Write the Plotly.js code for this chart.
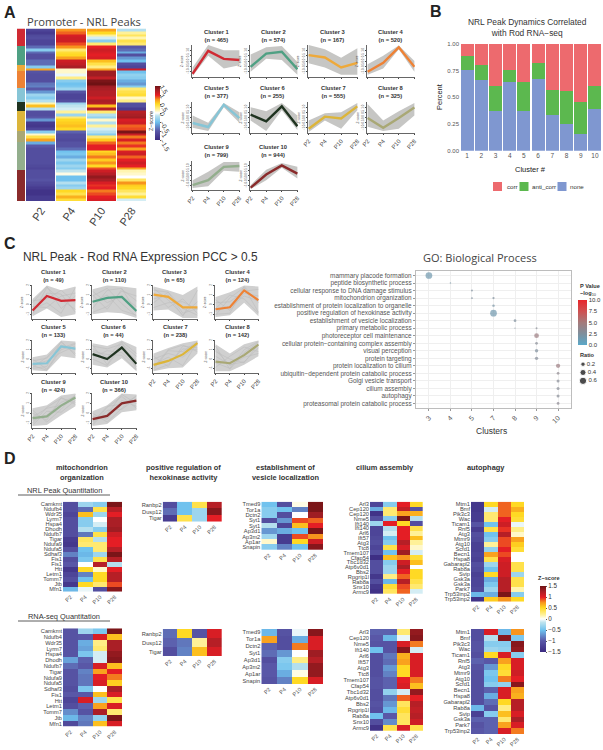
<!DOCTYPE html>
<html><head><meta charset="utf-8">
<script src="https://cdn.plot.ly/plotly-3.0.1.min.js"></script>
<style>html,body{margin:0;padding:0;background:#fff}</style></head>
<body><div id="chart" style="width:603px;height:750px"></div>
<script>
const W=603,H=750;
const stages=['P2','P4','P10','P28'];
const clusterColors=['#d02a33','#4fa083','#eea93a','#ee8235','#87c5d6','#1f3320','#dcb53a','#a9a875','#93ae8d','#8a2b2b'];

// Panel A heatmap
const promoterCluster=[1,1,1,1,1,1,2,2,2,2,2,2,2,3,3,4,4,4,4,4,4,5,5,5,5,5,6,6,6,7,7,7,7,7,7,7,8,8,8,8,9,9,9,9,9,9,9,9,9,9,10,10,10,10,10,10,10,10,10,10,10];
const promoterZ=[
[-1.2,0.75,0.7,-0.2],[-1.3,0.85,0.5,0.2],[-1.15,1.05,0.2,0.35],[-1.1,1.1,-0.1,0.15],[-1.2,1.1,-0.4,0.4],[-1.2,0.9,0.3,0.3],
[-0.9,0.75,1.0,-1.0],[-0.4,0.3,1.1,-0.9],[-0.9,0.45,1.05,-0.6],[-1.1,0.5,1.0,-1.1],[-1.1,0.7,1.05,-0.7],[-0.9,1.1,0.6,-0.5],[-0.9,1.15,0.4,-1.1],
[-0.4,1.25,0.25,-1.2],[0.7,0.1,0.7,1.1],
[-1.05,0.1,1.3,-0.5],[-1.1,-0.05,1.3,-0.35],[-1.1,0.25,1.15,-0.4],[-1.1,-0.4,1.45,-0.6],[-0.85,-0.5,1.5,-0.7],[-0.8,-0.45,1.3,-0.4],
[-1.0,-0.3,1.25,0.3],[-0.7,-1.05,1.2,0.4],[-0.3,-1.2,1.2,0.45],[-0.4,-1.2,1.1,0.1],[-0.2,-1.1,1.25,0.25],
[0.15,-0.3,1.2,-1.1],[0.6,-0.15,0.6,-1.1],[-0.2,-0.1,1.2,-1.3],
[-1.1,0.2,0.3,1.2],[-1.1,-0.3,-0.2,1.25],[-1.0,0.3,-0.35,1.3],[-0.7,0.5,0.1,1.05],[-1.3,0.55,-0.2,1.1],[-1.35,0.6,0.2,0.85],[-1.2,0.5,-0.1,0.9],
[-0.4,-0.95,-0.2,1.45],[0.1,-1.1,-0.4,1.1],[0.4,-1.1,0.3,0.8],[0.7,-1.15,0.55,1.05],
[-0.6,-1.05,0.85,0.8],[-1.0,-1.05,1.0,0.95],[-1.1,-0.9,1.0,0.7],[-1.1,-0.5,0.5,1.05],[-1.1,-0.45,0.6,1.1],[-1.1,-0.6,0.8,0.85],[-1.1,-0.3,0.55,1.0],[-1.1,-0.45,0.75,1.1],[-1.15,-0.3,0.5,1.0],[-1.2,-0.4,0.9,0.7],
[-1.1,-0.15,1.1,0.15],[-1.1,0.05,1.2,0.1],[-1.1,-0.5,1.35,0.0],[-1.05,-0.5,1.25,0.35],[-1.15,-0.2,1.05,0.75],[-1.2,-0.4,0.95,0.55],[-1.3,-0.3,1.0,0.5],[-1.4,0.5,0.8,0.35],[-1.4,0.4,0.9,0.2],[-1.3,0.65,1.0,0.45],[-1.3,0.45,1.05,-0.1]];

// Panel A cluster profiles
const aN=[465,574,167,520,377,255,555,325,799,944];
const aMean=[[-1.2,0.95,0.2,0.1],[-0.55,0.7,0.87,-0.77],[0.55,0.33,-0.6,-0.17],[-1,-0.17,1.28,-0.55],[-0.53,-0.92,1.24,-0.05],[0.27,-0.37,1.08,-0.85],[-1.08,0.08,-0.1,1.08],[-0.05,-1.0,-0.05,0.98],[-0.99,-0.48,0.89,0.99],[-1.26,0.1,1.05,0.2]];
const aUpper=[[-0.6,1.5,1.0,1.0],[0.6,1.3,1.4,-0.1],[1.5,1.1,0.3,1.2],[-0.3,0.5,1.45,0],[0.2,-0.5,1.4,0.5],[1.0,0.6,1.4,0.2],[-0.3,0.4,0.5,1.4],[1.3,-0.3,0.6,1.4],[-0.5,0.4,1.4,1.4],[-1.0,0.6,1.3,0.9]];
const aLower=[[-1.4,0.5,-0.7,-0.4],[-1,0.2,0.1,-1.3],[-0.2,-0.6,-1.3,-1.3],[-1.3,-0.7,1.1,-1.0],[-1,-1.3,1.0,-0.5],[-0.3,-1.3,0.7,-1.2],[-1.4,-0.3,-1.1,0.7],[-0.9,-1.3,-1.1,0.2],[-1.3,-1.1,0.5,0.4],[-1.4,-0.5,0.8,-0.3]];

// Panel B
const bClusters=['1','2','3','4','5','6','7','8','9','10'];
const bNone=[0.76,0.66,0.37,0.645,0.375,0.675,0.33,0.25,0.16,0.39];
const bAnti=[0.13,0.145,0.235,0.11,0.265,0.145,0.24,0.305,0.30,0.215];
const bCorr=[0.11,0.195,0.395,0.245,0.36,0.18,0.43,0.445,0.54,0.395];

// Panel C cluster profiles
const cN=[49,110,65,124,133,44,238,142,424,366];
const cMean=[[-0.62,0.91,0.4,0.47],[0.3,0.71,0.81,-0.65],[1.05,0.81,-0.28,-0.28],[-0.48,-0.28,1.49,0.47],[-0.52,-0.45,1.37,1.13],[0.53,0,1.23,-0.52],[-0.63,-0.2,0.5,1.72],[-0.27,-0.45,0.42,1.55],[-0.5,-0.33,0.77,1.6],[-0.6,-0.27,1,1.27]];
const cUpper=[[0.6,2,1.5,1.9],[1.6,2,1.9,1.7],[1.9,1.5,1,1.9],[0.8,1.3,2,1.9],[0.2,0.5,2,1.9],[1.7,1.4,2,1.3],[0.6,1.2,1.7,2],[1.6,0.6,1.6,2],[0.5,0.8,1.8,2],[0.2,0.8,2,1.9]];
const cLower=[[-1.2,-0.4,-1.3,-1.0],[-1,-0.8,-0.9,-1.4],[-0.6,-0.5,-1.4,-1.4],[-1.3,-1.1,0.2,-1.2],[-1.2,-1.3,0.3,0.1],[-0.6,-0.9,0.1,-1.3],[-1.3,-1,-0.9,0.6],[-1.3,-1.3,-0.6,0.3],[-1.3,-1.2,-0.2,0.7],[-1.3,-1.1,0.1,0.3]];
const cGray=[
[[-1,1.8,0.5,-0.5],[0.4,0.6,1.5,0.2],[-0.5,0.2,-0.9,1.8],[-0.9,1.2,1.1,-0.8],[0.2,1.9,-0.4,0.9],[-0.2,-0.3,0.9,1.2]],
[[0.9,1.7,0.1,-1.2],[-0.4,1.5,1.7,-0.8],[1.4,0.2,0.9,-0.2],[-0.8,-0.2,1.4,0.9],[0.3,1,-0.6,-1.1],[1,-0.5,1.6,0.4]],
[[1.7,0.5,-1.1,0.3],[0.2,1.3,-0.4,-1.1],[1.2,-0.3,0.6,-0.9],[0.6,1,-1.2,1.5],[-0.3,0.2,0.3,-0.5],[1.5,1.3,-0.9,-0.4]],
[[-1.1,0.7,1.8,-0.8],[0.5,-0.6,1.2,0.9],[-0.4,1,0.6,-0.9],[-1,-0.9,1.9,0.2],[0.2,0.3,1.4,1.6],[-0.7,-0.2,0.9,0.4]],
[[-0.9,0.2,1.8,0.6],[0,-1.1,1.2,1.7],[-0.6,-0.2,0.7,1.4],[-1,-0.8,1.9,0.4],[-0.2,0.1,1.5,1],[-0.7,-1.2,1.0,1.6]],
[[1.5,-0.6,1.8,-1.1],[0.2,0.9,0.7,-0.8],[1.1,0.2,1.9,0.6],[0,-0.7,1.4,-0.2],[0.8,0.5,0.4,-1.2],[1.4,1.1,1.6,0.3]],
[[-1.1,0.9,0.8,1.9],[0.3,-0.8,1.4,1.2],[-0.6,0.2,-0.7,1.8],[-1.2,-0.6,1.1,1],[0,0.6,0.2,1.5],[-0.9,1,1.5,0.8]],
[[1.4,-1.1,0.7,1.8],[0.3,-0.6,-0.3,1.2],[-0.9,0.3,1.3,0.8],[0.8,0,-0.4,1.6],[-0.4,-1,1,1.9],[1,-0.7,0.2,0.6]],
[[-1,0.6,1.5,1.1],[0.3,-0.9,0.4,1.9],[-0.7,-0.2,1.1,1.7],[-1.2,0.2,0.1,1.3],[0,-0.7,1.6,0.9],[-0.4,0.5,0.8,1.5]],
[[-1.1,0.6,1.7,0.5],[0,-0.9,0.5,1.8],[-0.8,-0.1,1.9,1],[-1.2,0.3,0.4,1.5],[-0.3,-0.6,1.3,0.7],[-0.9,0.7,0.9,1.7]]];

// GO dot plot
const goTerms=['mammary placode formation','peptide biosynthetic process','cellular response to DNA damage stimulus','mitochondrion organization','establishment of protein localization to organelle','positive regulation of hexokinase activity','establishment of vesicle localization','primary metabolic process','photoreceptor cell maintenance','cellular protein\u2212containing complex assembly','visual perception','protein targeting','protein localization to cilium','ubiquitin\u2212dependent protein catabolic process','Golgi vesicle transport','cilium assembly','autophagy','proteasomal protein catabolic process'];
const goClusterOrder=['3','4','5','7','8','9','10'];
const goCluster=['3','4','5','5','7','7','7','8','8','9','9','9','9','9','10','10','10','10','10','10'];
const goRow=[0,1,2,3,3,4,5,6,7,7,8,9,10,11,12,13,14,15,16,17];
const goLogP=[1.5,2,2.5,2.5,2.5,2,1.5,2.5,2.5,3,4.5,3,2.5,2.8,4.5,3.5,3,3,3,3.3];
const goRatio=[0.6,0.03,0.05,0.05,0.07,0.08,0.6,0.1,0.02,0.05,0.3,0.1,0.15,0.15,0.25,0.1,0.12,0.12,0.12,0.1];
const ratioLegend=[0.2,0.4,0.6];

// Panel D heatmaps
const h1Names=['Camkmt','Ndufb4','Wdr35','Lyrm7','Hspa4','Dhodh','Ndufb7','Tigar','Ndufa9','Ndufa5','Sdhaf3','Fis1','Fis1','Htt','Letm1','Tomm7','Jtb','Mfn1'];
const h1Z=[[-1.1,-0.3,-0.4,1.45],[-1.1,-0.9,0.4,1.2],[-1.2,0.6,-0.3,1.0],[-1.1,-0.4,0.0,1.25],[-1.1,-0.4,-0.1,1.25],[-1.1,-0.2,-0.4,1.3],[-1.1,-0.85,0.4,1.1],[-1.3,0.35,-0.2,1.0],[-1.35,0.3,0.3,1.0],[-1.1,-0.5,0.3,1.2],[-0.8,-0.55,-0.3,1.45],[-1.1,-0.45,0.4,1.2],[-1.0,0,1.2,-0.2],[-1.35,0.5,0.1,1.0],[-1.2,-0.8,0.5,1.2],[-1.1,-0.5,0.5,1.2],[-1.35,0.5,0.3,0.9],[-0.55,-0.05,-1.1,1.4]];
const h2Names=['Ranbp2','Dusp12','Tigar'];
const h2Z=[[-1.1,-0.5,0.4,1.2],[-0.9,-0.5,-0.3,1.4],[-1.3,0.4,-0.3,1.0]];
const h3Names=['Tmed9','Tor1a','Dctn2','Syt1','Syt1','Ap3d1','Ap3m2','Ap1ar','Snapin'];
const h3Z=[[-0.5,-1.1,0.05,1.45],[-0.4,-0.5,-0.8,1.45],[-0.4,-1.1,0,1.3],[-1.1,-0.7,0.9,0.85],[-0.2,-1.2,0.6,1.0],[-0.7,-0.6,-0.5,1.45],[-0.3,-1.3,0.9,0.75],[0.1,-1.3,0.5,1.1],[-0.4,-0.8,-0.5,1.4]];
const h4Names=['Arl3','Cep120','Cep120','Nme5','Ift140','Ift140','Arl6','Ift57','Atg3','Ttc8','Tmem107','Cfap54','Tbc1d32','Atp6v0d1','Bbs2','Rpgrip1l','Rab8a','Snx10','Armc9'];
const h4Z=[[-1.2,-0.4,1.0,0.5],[-0.6,0.3,1.15,-1.05],[-1.4,0.3,0.7,0.65],[-1.1,-0.4,1.45,-0.2],[-0.3,1.0,0.5,-1.1],[-1.2,-0.2,1.0,0.4],[-1.2,-0.1,1.0,0.2],[-1.15,-0.5,1.0,0.6],[-1.1,-0.4,1.2,0.2],[-1.2,0.4,1.05,0.1],[-1.1,-0.5,1.3,-0.1],[-1.45,0.6,0.75,0.45],[-1.1,-0.4,1.1,0.6],[-1.1,-0.3,1.25,0],[-1.1,-0.3,1.0,0.5],[-1.35,0.25,0.85,0.5],[-1.1,-0.55,1.2,0.4],[-1.35,0.45,0.9,0.3],[-1.4,0.35,0.85,-0.1]];
const h5Names=['Mtm1','Bmf','Pik3c3','Wac','Ticam1','Rnf5','Atg3','Mtmr9','Atg10','Scfd1','Becn1','Hspa8','Gabarapl2','Rab8a','Svip','Gsk3a','Gsk3a','Park7','Trp53inp2','Trp53inp2'];
const h5Z=[[-1.35,0.5,0.85,0.5],[-1.35,-0.1,0.85,0.65],[-1.3,0.3,0.85,0.5],[-1.3,0.3,1.0,0.45],[-1.05,-0.5,1.1,-0.05],[-1.3,0.4,0.95,0.25],[-1.1,-0.5,1.2,0.1],[-1.15,-0.4,0.9,0.7],[-1.25,0.2,0.9,0.55],[-1.25,-0.35,1.0,0.45],[-1.2,0.7,0.9,0],[-1.25,0.4,1.05,0],[-1.1,-0.3,1.1,0.4],[-1.15,-0.5,1.1,0.4],[-1.25,0.5,1.1,-0.3],[-1.2,-0.6,1.2,0.4],[-1.2,-0.45,1.2,0.4],[-1.15,-0.3,1.2,0.15],[-0.55,-0.6,1.45,-0.4],[-1.4,0.55,0.75,0.5]];
const r1Names=['Camkmt','Ndufb4','Wdr35','Lyrm7','Hspa4','Dhodh','Ndufb7','Tigar','Ndufa9','Ndufa5','Sdhaf3','Fis1','Htt','Letm1','Tomm7','Jtb','Mfn1'];
const r1Z=[[-1.05,-0.3,-0.45,1.45],[-1.05,-1.0,1.05,0.6],[-1.05,-0.6,0.25,1.25],[-1.05,-0.65,0.3,1.25],[-1.05,-0.45,-0.1,1.35],[-0.65,-0.95,-0.1,1.4],[-0.9,-1.0,1.05,0.6],[-1.05,-0.8,0.7,1.0],[-1.05,-0.85,1.0,0.8],[-1.05,-0.85,1.05,0.55],[-1.1,-0.45,0.0,1.25],[-1.0,-1.0,0.6,1.05],[-1.2,1.05,-0.3,0.4],[-1.1,-0.95,0.7,1.05],[-0.75,-1.05,1.25,0.3],[-0.55,-0.8,-0.35,1.45],[-1.15,-0.85,0.6,1.05]];
const r2Names=['Ranbp2','Dusp12','Tigar'];
const r2Z=[[-0.9,0.5,-1.05,1.05],[-0.95,-0.85,0.2,1.2],[-1.1,-0.8,0.6,1.05]];
const r3Names=['Tmed9','Tor1a','Dctn2','Syt1','Ap3d1','Ap3m2','Ap1ar','Snapin'];
const r3Z=[[-0.55,-1.05,-0.05,1.4],[0.7,-1.1,-0.6,1.05],[-0.95,-1.1,0.8,1.05],[-0.9,-0.7,0,1.3],[-1.1,-0.4,0.25,1.2],[-1.0,-0.45,-0.2,1.35],[-1.0,-0.6,0.05,1.35],[-1.05,-0.8,0.5,1.05]];
const r4Names=['Arl3','Cep120','Nme5','Ift140','Arl6','Ift57','Atg3','Ttc8','Tmem107','Cfap54','Tbc1d32','Atp6v0d1','Bbs2','Rpgrip1l','Rab8a','Snx10','Armc9'];
const r4Z=[[-0.95,-0.95,0.3,1.35],[-1.0,-0.55,-0.05,1.4],[-1.05,-1.05,1.05,0.8],[-0.5,-1.05,1.4,-0.1],[-1.1,-0.85,0.65,1.05],[-1.1,-0.9,0.7,1.05],[-1.1,-0.7,0.5,1.05],[-1.1,-0.8,0.5,1.05],[-1.05,-0.95,1.0,0.8],[-1.05,-0.95,1.05,0.6],[-1.1,-0.35,-0.1,1.35],[-1.1,-0.85,0.85,1.0],[-1.05,-0.7,0.35,1.2],[-1.1,-0.55,0.45,1.15],[-0.5,-1.0,0.35,1.2],[-1.1,-0.75,0.35,1.1],[-1.4,0.4,1.05,0.4]];
const r5Names=['Mtm1','Bmf','Pik3c3','Wac','Ticam1','Rnf5','Atg3','Mtmr9','Atg10','Scfd1','Becn1','Hspa8','Gabarapl2','Rab8a','Svip','Gsk3a','Park7','Trp53inp2'];
const r5Z=[[-1.1,1.05,-0.55,0.75],[-1.1,-0.2,1.4,-0.45],[-1.05,-0.4,-0.4,1.4],[-1.05,-0.3,-0.35,1.35],[-1.1,0.5,1.05,-0.4],[-0.95,-1.0,0.7,1.05],[-1.05,-0.7,0.5,1.05],[-1.1,-0.45,0.45,1.1],[-1.1,-0.5,0.8,1.0],[-1.1,-0.4,-0.35,1.4],[-1.1,-0.95,1.05,0.7],[-1.1,-0.6,1.05,0.65],[-1.1,-0.9,0.5,1.2],[-0.55,-1.05,0.25,1.2],[-1.25,-0.4,0.6,1.05],[-0.95,-0.95,0.3,1.25],[-1.05,-0.95,0.7,1.05],[-1.0,-0.95,1.05,0.8]];

const zScale=[[0,'#3b2a80'],[0.17,'#5a58a8'],[0.33,'#6ec1ee'],[0.45,'#bfe4ee'],[0.5,'#ffffff'],[0.56,'#fff3a0'],[0.67,'#ffd820'],[0.75,'#f7941d'],[0.83,'#e61e25'],[0.92,'#a81f26'],[1,'#6f1214']];
const pScale=[[0,'#5ba8c8'],[0.25,'#7f8f9c'],[0.5,'#a57a7a'],[0.75,'#cf5050'],[1,'#e8252a']];
const FONT='"Liberation Sans", Arial, sans-serif';
const traces=[],annotations=[],shapes=[];
const layout={width:W,height:H,margin:{l:0,r:0,t:0,b:0},paper_bgcolor:'#fff',plot_bgcolor:'#fff',showlegend:false,font:{family:FONT,color:'#333'},annotations,shapes};
let axN=0;
function axes(x0,y0,x1,y1,xa,ya){
  axN++;const s=axN===1?'':axN;
  layout['xaxis'+s]=Object.assign({domain:[x0/W,x1/W],anchor:'y'+s,showgrid:false,zeroline:false,automargin:false},xa);
  layout['yaxis'+s]=Object.assign({domain:[1-y1/H,1-y0/H],anchor:'x'+s,showgrid:false,zeroline:false,automargin:false},ya);
  return {xaxis:'x'+s,yaxis:'y'+s};
}
function note(x,y,text,size,opt){
  annotations.push(Object.assign({xref:'paper',yref:'paper',x:x/W,y:1-y/H,text,showarrow:false,xanchor:'center',yanchor:'middle',align:'center',font:{size,color:'#333'}},opt||{}));
}
const idx=a=>a.map((_,i)=>i);

// ----- Panel letters
note(10,12,'<b>A</b>',16,{font:{size:16,color:'#222'}});
note(436,11,'<b>B</b>',16,{font:{size:16,color:'#222'}});
note(10,243,'<b>C</b>',16,{font:{size:16,color:'#222'}});
note(10,458,'<b>D</b>',16,{font:{size:16,color:'#222'}});

// ----- Panel A
note(84,21,'Promoter - NRL Peaks',11.2,{font:{size:11.2,color:'#444',family:'"Open Sans", sans-serif'}});
const sideAx=axes(17,28.5,25,201,{visible:false},{visible:false,autorange:false,range:[promoterZ.length-0.5,-0.5]});
traces.push(Object.assign({type:'heatmap',z:promoterCluster.map(c=>[c]),zmin:1,zmax:10,showscale:false,
  colorscale:clusterColors.map((c,i)=>[i/9,c])},sideAx));
const aAx=axes(26,28.5,147,201,{tickvals:[0,1,2,3],ticktext:stages,tickangle:-55,tickfont:{size:11,color:'#444'},ticks:'',showline:false,range:[-0.5,3.5]},
  {visible:false,range:[promoterZ.length-0.5,-0.5]});
traces.push(Object.assign({type:'heatmap',z:promoterZ,zmin:-1.5,zmax:1.5,colorscale:zScale,xgap:1,
  colorbar:{x:154.5/W,xanchor:'left',xpad:0,ypad:0,y:1-140/H,yanchor:'bottom',lenmode:'pixels',len:54,thickness:4.5,outlinewidth:0,
    tickvals:[-1.5,-1,-0.5,0,0.5,1,1.5],ticktext:['\u22121.5','\u22121','\u22120.5','0','0.5','1','1.5'],tickangle:60,tickfont:{size:6.5,color:'#333'},ticklen:1.5,tickcolor:'#555',ticks:'outside'}},aAx));
note(151,121,'Z\u2212score',5.5,{textangle:-90});

function profile(rect,mean,up,low,gray,color,axOpt,lw){
  const [x0,y0,x1,y1]=rect;
  const a=axes(x0,y0,x1,y1,{range:[-0.04,3.04],tickvals:[0,1,2,3],ticktext:stages,showticklabels:!!axOpt.labels,tickangle:-50,
      tickfont:{size:6,color:'#444'},ticks:'outside',ticklen:1.5,tickwidth:0.4,tickcolor:'#444',showline:true,linewidth:0.4,linecolor:'#666'},
    {range:axOpt.range,tickvals:axOpt.yticks,ticktext:axOpt.ylabels,tickangle:-90,tickfont:{size:2.8,color:'#555'},ticks:'outside',ticklen:1.5,tickwidth:0.4,tickcolor:'#444',showline:true,linewidth:0.4,linecolor:'#666'});
  traces.push(Object.assign({type:'scatter',mode:'lines',x:[0,1,2,3,3,2,1,0],y:up.concat(low.slice().reverse()),fill:'toself',fillcolor:axOpt.band,line:{width:0},hoverinfo:'skip'},a));
  (gray||[]).forEach(g=>traces.push(Object.assign({type:'scatter',mode:'lines',x:[0,1,2,3],y:g,line:{color:'#bdbdbd',width:0.6},hoverinfo:'skip'},a)));
  traces.push(Object.assign({type:'scatter',mode:'lines',x:[0,1,2,3],y:mean,line:{color,width:lw},cliponaxis:false},a));
  note(x0-10,(y0+y1)/2,'Z\u2212score',3.2,{textangle:-90,font:{size:3.2,color:'#444'}});
}
const aCols=[[192,240],[250,298],[308,358],[367,415]];
const aRows=[[45,77],[102,133],[161,190]];
const aTitleX=[217,273,333,391];
const aTitleY=[35.5,92.5,150.5];
for(let i=0;i<10;i++){
  const r=Math.floor(i/4),c=i%4;
  const lab=(r===2)||(r===1&&c>=2);
  profile([aCols[c][0],aRows[r][0],aCols[c][1],aRows[r][1]],aMean[i],aUpper[i],aLower[i],null,clusterColors[i],
    {labels:lab,range:[-1.5,1.5],yticks:[-1,-0.5,0,0.5,1],ylabels:['\u22121.0','\u22120.5','0.0','0.5','1.0'],band:'#c6c6c4'},2.4);
  note(aTitleX[c],aTitleY[r],'<b>Cluster '+(i+1)+'</b><br><b>(n = '+aN[i]+')</b>',5.8);
}

// ----- Panel B
const bAx=axes(460,44,602,150.7,{type:'category',categoryorder:'array',categoryarray:bClusters,tickfont:{size:6.5,color:'#555'},ticks:'',range:[-0.5,9.5]},
  {range:[0,1],tickvals:[0,0.25,0.5,0.75,1],ticktext:['0.00','0.25','0.50','0.75','1.00'],tickfont:{size:6,color:'#555'},ticks:'',ticklen:0});
layout.barmode='stack';layout.bargap=0.08;
[['none',bNone,'#7f97d0'],['anti_corr',bAnti,'#5cb84f'],['corr',bCorr,'#ed6a6e']].forEach(([n,v,c])=>
  traces.push(Object.assign({type:'bar',name:n,x:bClusters,y:v,marker:{color:c,line:{width:0}}},bAx)));
note(527,28,'NRL Peak Dynamics Correlated<br>with Rod RNA\u2212seq',8.4);
note(440,97,'Percent',7.5,{textangle:-90,font:{size:7.5,color:'#222'}});
note(530,169,'Cluster #',7.5,{font:{size:7.5,color:'#222'}});
[['corr','#ed6a6e',493,504.5],['anti_corr','#5cb84f',519.5,530],['none','#7f97d0',557.5,568]].forEach(([n,c,sx,tx])=>{
  shapes.push({type:'rect',xref:'paper',yref:'paper',x0:sx/W,x1:(sx+9)/W,y0:1-191/H,y1:1-182/H,fillcolor:c,line:{width:0}});
  note(tx,186.5,n,6.2,{xanchor:'left'});
});

// ----- Panel C
note(21,256.5,'NRL Peak - Rod RNA Expression PCC &gt; 0.5',11.9,{xanchor:'left',font:{size:11.9,color:'#333'}});
const cCols=[[32,76],[92,137],[153,198],[215,259]];
const cRows=[[285,319],[340,373],[393,428]];
const cTitleX=[54,114,175,238];
const cTitleY=[276,331,386];
for(let i=0;i<10;i++){
  const r=Math.floor(i/4),c=i%4;
  const lab=(r===2)||(r===1&&c>=2);
  profile([cCols[c][0],cRows[r][0],cCols[c][1],cRows[r][1]],cMean[i],cUpper[i],cLower[i],cGray[i],clusterColors[i],
    {labels:lab,range:[-1.5,2.05],yticks:[-1,0,1,2],ylabels:['\u22121','0','1','2'],band:'#d0d0d0'},2.2);
  note(cTitleX[c],cTitleY[r],'<b>Cluster '+(i+1)+'</b><br><b>(n = '+cN[i]+')</b>',5.8);
}

// ----- GO dot plot
note(479.5,257,'GO: Biological Process',11,{font:{size:11,color:'#444',family:'"Open Sans", sans-serif'}});
const goAx=axes(416,271,571,408,{type:'category',categoryorder:'array',categoryarray:goClusterOrder,range:[-0.6,6.6],tickangle:-45,tickfont:{size:7,color:'#555'},
    showgrid:true,gridcolor:'#efefef',gridwidth:0.5,ticks:'outside',ticklen:2,tickwidth:0.5,tickcolor:'#999',showline:true,mirror:true,linecolor:'#bdbdbd',linewidth:1.2},
  {range:[17.6,-0.6],tickvals:idx(goTerms),ticktext:goTerms,tickfont:{size:6.45,color:'#555'},showgrid:true,gridcolor:'#efefef',gridwidth:0.5,ticks:'outside',ticklen:2,tickwidth:0.5,tickcolor:'#999',showline:true,mirror:true,linecolor:'#bdbdbd',linewidth:1.2});
traces.push(Object.assign({type:'scatter',mode:'markers',x:goCluster,y:goRow,
  marker:{size:goRatio.map(r=>8.65*Math.sqrt(r)),color:goLogP,cmin:0,cmax:10,colorscale:pScale,line:{width:0},showscale:true,
    colorbar:{x:578/W,xanchor:'left',xpad:0,ypad:0,y:1-345/H,yanchor:'bottom',lenmode:'pixels',len:45,thickness:9,outlinewidth:0,
      tickvals:[0,2.5,5,7.5,10],ticktext:['0.0','2.5','5.0','7.5','10.0'],tickfont:{size:6,color:'#333'},ticks:'',ticklen:0}}},goAx));
note(492,431,'Clusters',8.5);
note(578,290,'<b>P Value</b><br><b>\u2212log</b><sub>10</sub>',5.6,{xanchor:'left',align:'left'});
note(578,354.5,'<b>Ratio</b>',5.6,{xanchor:'left'});
const ratioAx=axes(579,360,600,385,{visible:false,range:[-0.4,1.7]},{visible:false,range:[0.7,0.1]});
traces.push(Object.assign({type:'scatter',mode:'markers+text',x:ratioLegend.map(()=>0),y:ratioLegend,text:ratioLegend.map(v=>v.toFixed(1)),textposition:'middle right',
  textfont:{size:6,color:'#333'},marker:{color:'#000',size:ratioLegend.map(r=>8.65*Math.sqrt(r)+0.6)},cliponaxis:false},ratioAx));

// ----- Panel D
[[82,'mitochondrion<br>organization'],[183,'positive regulation of<br>hexokinase activity'],[285,'establishment of<br>vesicle localization'],[385,'cilium assembly'],[486,'autophagy']].forEach(([x,t])=>{
  const two=t.indexOf('<br>')>0;
  note(x,two?472:467,'<b>'+t.replace('<br>','</b><br><b>')+'</b>',7.4);
});
note(64,490,'NRL Peak Quantitation',7.4);
note(64,616,'RNA-seq Quantitation',7.4);
[495,621].forEach(y=>shapes.push({type:'line',xref:'paper',yref:'paper',x0:18/W,x1:110/W,y0:1-y/H,y1:1-y/H,line:{color:'#333',width:0.8}}));

function hm(rect,names,z,bar){
  const a=axes(rect[0],rect[1],rect[2],rect[3],{tickvals:[0,1,2,3],ticktext:stages,tickangle:-45,tickfont:{size:5.6,color:'#555'},ticks:'',range:[-0.5,3.5]},
    {range:[names.length-0.5,-0.5],tickvals:idx(names),ticktext:names,tickfont:{size:5.7,color:'#444'},ticks:'',ticklen:0});
  const t={type:'heatmap',z,zmin:-1.5,zmax:1.5,colorscale:zScale,showscale:!!bar,hoverongaps:false};
  if(bar)t.colorbar=bar;
  traces.push(Object.assign(t,a));
}
hm([63,501.7,122,591.7],h1Names,h1Z);
hm([162.7,501.7,222,521.7],h2Names,h2Z);
hm([261.3,501.7,323,550],h3Names,h3Z);
hm([370,501.7,422.7,594],h4Names,h4Z);
hm([471,501.7,524,601.7],h5Names,h5Z);
hm([63,628.3,122,726.7],r1Names,r1Z);
hm([162.7,629,222,656],r2Names,r2Z);
hm([261.3,629,323,684],r3Names,r3Z);
hm([370,629,423,730.7],r4Names,r4Z);
hm([471,629,524,734],r5Names,r5Z,{x:540/W,xanchor:'left',xpad:0,ypad:0,y:1-652/H,yanchor:'bottom',lenmode:'pixels',len:66,thickness:6,outlinewidth:0,
  tickvals:[-1.5,-1,-0.5,0,0.5,1,1.5],ticktext:['\u22121.5','\u22121','\u22120.5','0','0.5','1','1.5'],tickfont:{size:6.3,color:'#333'},ticks:'outside',ticklen:1.5,tickcolor:'#555'});
note(549,578,'<b>Z\u2212score</b>',5.6);

Plotly.newPlot('chart',traces,layout,{displayModeBar:false,responsive:false});
</script></body></html>
